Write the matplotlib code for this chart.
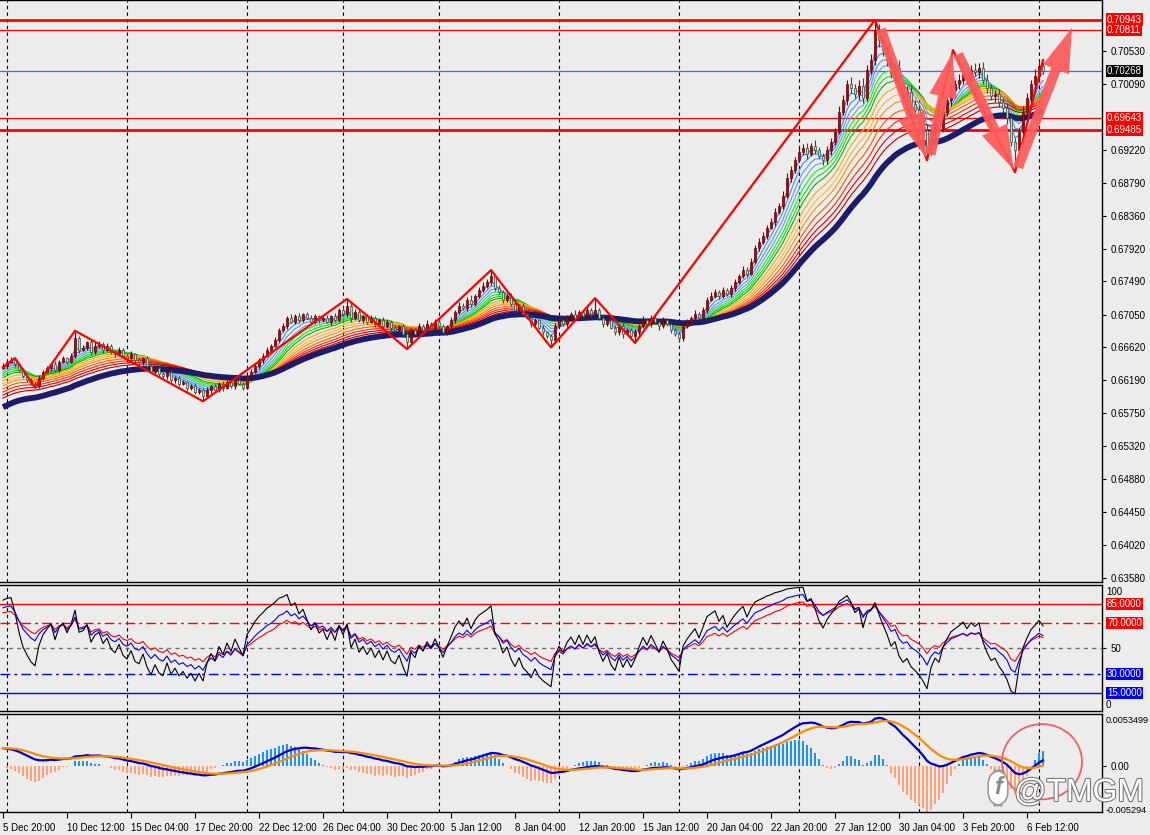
import numpy as np
import matplotlib.pyplot as plt
from matplotlib.patches import FancyArrowPatch, Ellipse
import matplotlib.patheffects as pe

plt.rcParams['font.family'] = ['Liberation Sans', 'DejaVu Sans']

# H4 closes (units of 0.0001)
closes = [
    6638, 6643, 6645, 6640, 6632, 6624, 6619, 6614, 6611, 6622,
    6630, 6635, 6640, 6632, 6643, 6648, 6643, 6651, 6674, 6659,
    6661, 6669, 6656, 6664, 6667, 6659, 6664, 6656, 6653, 6659,
    6651, 6648, 6653, 6645, 6643, 6648, 6638, 6630, 6635, 6627,
    6624, 6630, 6619, 6622, 6614, 6616, 6609, 6611, 6603, 6606,
    6598, 6606, 6611, 6606, 6614, 6609, 6616, 6611, 6619, 6614,
    6609, 6624, 6630, 6638, 6645, 6651, 6659, 6664, 6672, 6685,
    6690, 6701, 6696, 6703, 6698, 6706, 6701, 6696, 6703, 6698,
    6701, 6696, 6703, 6698, 6711, 6706, 6717, 6701, 6709, 6698,
    6703, 6696, 6701, 6693, 6698, 6690, 6696, 6688, 6685, 6690,
    6680, 6669, 6685, 6680, 6690, 6685, 6693, 6688, 6696, 6690,
    6682, 6690, 6698, 6709, 6717, 6714, 6725, 6719, 6730, 6738,
    6743, 6748, 6756, 6740, 6735, 6725, 6730, 6719, 6711, 6717,
    6706, 6701, 6693, 6698, 6688, 6682, 6677, 6672, 6690, 6698,
    6693, 6701, 6706, 6701, 6709, 6703, 6711, 6706, 6711, 6701,
    6693, 6698, 6688, 6682, 6690, 6680, 6685, 6677, 6682, 6690,
    6698, 6693, 6701, 6696, 6690, 6698, 6693, 6685, 6680, 6674,
    6690, 6696, 6701, 6706, 6701, 6711, 6725, 6730, 6735, 6730,
    6738, 6732, 6740, 6748, 6756, 6764, 6759, 6775, 6793, 6801,
    6809, 6820, 6827, 6841, 6849, 6862, 6885, 6896, 6909, 6920,
    6925, 6917, 6928, 6922, 6914, 6909, 6922, 6933, 6946, 6973,
    6988, 7009, 7004, 6996, 7007, 6991, 7028, 7041, 7081, 7067,
    7054, 7041, 7023, 7031, 7007, 6994, 6999, 6983, 6975, 6965,
    6949, 6922, 6946, 6959, 6951, 6973, 6988, 7002, 7009, 7015,
    7023, 7017, 7028, 7025, 7031, 7015, 7004, 6994, 6996, 6986,
    6978, 6965, 6933, 6922, 6946, 6973, 6991, 7009, 7020, 7033, 7027,
]
first_open = 6635

# wick sizes above / below the body, in pips
up_wick = ("3 2 4 3 2 3 2 3 2 4 2 3 2 4 3 3 2 4 10 3 4 2 3 5 3 2 4 3 2 3 "
           "2 3 4 2 3 2 3 4 2 3 3 2 4 3 2 3 2 3 4 2 3 4 2 3 2 4 3 2 3 4 "
           "3 2 3 4 3 4 3 2 4 3 4 3 5 3 4 2 3 4 3 2 3 4 2 5 3 4 9 3 4 3 "
           "2 3 4 3 2 4 3 2 3 2 3 4 3 2 4 3 5 2 3 4 3 2 4 3 5 3 4 6 3 4 "
           "5 4 8 3 4 3 2 4 3 2 3 2 4 3 2 3 2 3 4 3 2 4 3 5 3 2 4 3 16 3 "
           "4 2 3 4 3 5 2 3 4 3 5 3 4 3 2 4 3 2 3 2 4 3 2 5 3 4 3 5 4 3 "
           "4 3 5 4 3 6 4 5 4 6 5 4 6 5 4 6 7 5 4 6 5 6 4 7 5 4 6 5 6 8 "
           "7 6 9 5 8 10 6 8 13 7 9 6 8 5 10 6 8 9 5 7 6 8 5 7 9 6 5 8 6 7 "
           "5 8 6 9 6 7 8 5 6 7 5 6 4 5 6 8 7 6 9 5 6")
down_wick = ("2 3 2 4 3 2 3 2 2 3 3 2 4 2 3 2 3 2 3 4 2 3 4 2 3 4 2 3 4 2 "
             "3 4 2 3 2 4 3 2 3 4 2 3 2 4 3 2 4 3 2 3 7 3 4 2 3 4 2 3 4 2 "
             "3 2 3 2 4 3 2 3 2 3 3 4 2 3 4 3 2 4 3 4 3 2 4 3 2 3 4 5 3 2 "
             "4 3 2 4 3 5 2 4 3 2 4 9 3 2 4 5 3 2 4 3 4 3 2 4 3 2 4 3 2 3 "
             "3 2 4 3 2 4 3 2 3 4 3 2 4 3 2 4 3 10 3 2 3 4 2 3 4 2 3 4 2 3 "
             "4 3 2 4 3 5 2 3 9 3 3 2 4 3 5 2 3 4 3 4 3 2 4 3 2 4 3 2 3 4 "
             "3 2 4 3 2 3 4 2 3 4 3 4 2 5 3 4 3 5 4 3 4 6 3 5 4 7 5 6 4 3 "
             "5 6 7 5 8 6 4 5 6 9 7 8 6 9 7 8 6 7 9 8 9 13 6 8 7 5 6 7 8 6 "
             "5 7 6 5 8 6 7 6 8 7 6 8 5 17 6 5 4 6 5 7 4")

# moving-average ribbon: periods, colours and their values at the left edge
ribbon_periods = [3, 5, 7, 9, 11, 13, 15, 18, 21, 24, 28, 32, 36, 40]
ribbon_colors = ['#1e90ff', '#3c8fe8', '#5599e0', '#6a9fe6',
                 '#00ff00', '#22d322', '#00b800',
                 '#ffa500', '#ffb52e', '#ff9000',
                 '#ff5a00', '#ff2a00', '#e00000', '#c00000']
ribbon_start = [6636, 6634, 6631, 6628, 6626, 6623, 6620, 6616, 6612, 6609,
                6605, 6601, 6597, 6593]
slow_period, slow_start = 48, 6581

# zigzag turning points (bar, price)
zz_bar = [0, 3, 8, 18, 50, 86, 101, 122, 137, 148, 158, 218, 231, 237.5, 253, 260]
zz_price = [0.6636, 0.6648, 0.6609, 0.6684, 0.6591, 0.6726, 0.6660, 0.6764,
            0.6662, 0.6727, 0.6668, 0.7094, 0.6909, 0.7054, 0.6893, 0.7041]

# hand-drawn arrows (bar, price) -> (bar, price)
arrows = [((219.25, 0.7085), (231.0, 0.6909)),
          ((231.75, 0.6913), (237.5, 0.7054)),
          ((238.5, 0.7052), (253.0, 0.6893)),
          ((253.5, 0.6896), (267.5, 0.7087))]

levels_thick = [0.70943, 0.69485]
levels_thin = [0.70811, 0.69643]
bid = 0.70268

price_ticks = [0.63580, 0.64020, 0.64450, 0.64880, 0.65320, 0.65750, 0.66190,
               0.66620, 0.67050, 0.67490, 0.67920, 0.68360, 0.68790, 0.69220,
               0.70090, 0.70530]

rsi_periods = [7, 14, 21]
rsi_colors = ['black', '#0000ff', '#ff0000']
rsi_start = [88, 82, 78]

macd_fast, macd_slow, macd_sig = 12, 26, 9
macd_fast_start, macd_slow_start, macd_sig_start = 0.6632, 0.6610, 0.0021
hist_scale = 3

grid_bars = [1, 31, 61, 85, 109, 139, 169, 199, 229, 259]
date_labels = ['5 Dec 20:00', '10 Dec 12:00', '15 Dec 04:00', '17 Dec 20:00',
               '22 Dec 12:00', '26 Dec 04:00', '30 Dec 20:00', '5 Jan 12:00',
               '8 Jan 04:00', '12 Jan 20:00', '15 Jan 12:00', '20 Jan 04:00',
               '22 Jan 20:00', '27 Jan 12:00', '30 Jan 04:00', '3 Feb 20:00',
               '6 Feb 12:00']


def ema(x, n, seed):
    a = 2.0 / (n + 1)
    out = np.empty(len(x))
    v = seed
    for i, val in enumerate(x):
        v = v + a * (val - v)
        out[i] = v
    return out


def rsi(x, n, start):
    d = np.diff(x, prepend=x[0])
    g = np.abs(np.diff(x[:21])).mean()
    ag, al = g * start / 100, g * (1 - start / 100)
    out = np.empty(len(x))
    for i, v in enumerate(d):
        ag = (ag * (n - 1) + max(v, 0)) / n
        al = (al * (n - 1) + max(-v, 0)) / n
        out[i] = 100 * ag / (ag + al)
    return out


c = np.array(closes) / 1e4
o = np.r_[first_open / 1e4, c[:-1]]
up = np.array(up_wick.split(), dtype=float) / 1e4
dn = np.array(down_wick.split(), dtype=float) / 1e4
hi = np.maximum(o, c) + up
lo = np.minimum(o, c) - dn
idx = np.arange(len(c))
bull = c >= o

W, H = 1150, 835
bg = '#ececec'
fig = plt.figure(figsize=(W / 100, H / 100), dpi=100, facecolor=bg)
xr = 1102 / W
ax = fig.add_axes([0, 1 - 582 / H, xr, 582 / H], facecolor=bg)
ax2 = fig.add_axes([0, 1 - 711 / H, xr, 126 / H], facecolor=bg)
ax3 = fig.add_axes([0, 1 - 812 / H, xr, 98 / H], facecolor=bg)

for a in (ax, ax2, ax3):
    a.set_xlim(-0.75, 274.75)
    a.spines['left'].set_visible(False)
    for s in ('right', 'top', 'bottom'):
        a.spines[s].set_color('black')
        a.spines[s].set_linewidth(1)
    a.yaxis.tick_right()
    a.tick_params(axis='y', direction='out', length=3, width=0.8,
                  labelsize=7, pad=3, colors='black')
    for gb in grid_bars:
        a.axvline(gb, color='black', lw=0.8, ls=(0, (3, 3)), zorder=1)

# ---- main price panel ----
ax.set_ylim(0.63527, 0.71202)
ax.set_xticks([])
ax.set_yticks(price_ticks)
ax.set_yticklabels(['%.5f' % t for t in price_ticks])

for lv in levels_thick:
    ax.axhline(lv, color='#ff0000', lw=2, zorder=2)
for lv in levels_thin:
    ax.axhline(lv, color='#ff0000', lw=0.9, zorder=2)
ax.axhline(bid, color='#4a6ad0', lw=0.9, zorder=2)

for p, col, s in zip(ribbon_periods, ribbon_colors, ribbon_start):
    ax.plot(idx, ema(c, p, s / 1e4), color=col, lw=0.8, zorder=3)
ax.plot(idx, ema(c, slow_period, slow_start / 1e4), color='#1c1c6a', lw=4.2,
        zorder=3.5, solid_capstyle='butt')

ax.vlines(idx[bull], lo[bull], hi[bull], color='#7a0000', lw=0.8, zorder=4)
ax.vlines(idx[~bull], lo[~bull], hi[~bull], color='#2f4f3f', lw=0.8, zorder=4)
ax.bar(idx[bull], np.maximum(c - o, 0.00005)[bull], bottom=o[bull], width=0.72,
       color='#c00000', edgecolor='#6a0000', lw=0.5, zorder=4.5)
ax.bar(idx[~bull], (o - c)[~bull], bottom=c[~bull], width=0.72,
       color='#c9d6c9', edgecolor='#2f4f3f', lw=0.5, zorder=4.5)

ax.plot(zz_bar, zz_price, color='#ff0000', lw=1.6, zorder=5)

for (x0, y0), (x1, y1) in arrows:
    ax.add_patch(FancyArrowPatch((x0, y0), (x1, y1),
                                 arrowstyle='simple,head_length=1.6,head_width=1.0,tail_width=0.36',
                                 mutation_scale=20, color='#ff5a5a', alpha=0.92,
                                 lw=0, zorder=6, clip_on=False))


def tag(a, val, text, fc):
    a.annotate(text, xy=(1, val), xycoords=('axes fraction', 'data'),
               xytext=(5, 0), textcoords='offset pixels', va='center', ha='left',
               fontsize=7, color='white', annotation_clip=False,
               bbox=dict(boxstyle='square,pad=0.12', fc=fc, ec='none'))


def plain(a, val, text, dy=0, size=7):
    a.annotate(text, xy=(1, val), xycoords=('axes fraction', 'data'),
               xytext=(4, dy), textcoords='offset pixels', va='center', ha='left',
               fontsize=size, color='black', annotation_clip=False)


for lv in levels_thick + levels_thin:
    tag(ax, lv, '%.5f' % lv, '#ff0000')
tag(ax, bid, '%.5f' % bid, 'black')

# ---- oscillator panel ----
ax2.set_ylim(0.84, 99.9)
ax2.set_xticks([])
ax2.set_yticks([50])
ax2.set_yticklabels(['50'])
plain(ax2, 100, '100', dy=-7)
plain(ax2, 0, '0', dy=7)
ax2.axhline(85, color='#ff0000', lw=1)
ax2.axhline(70, color='#ff0000', lw=1, ls=(0, (7, 3, 2, 3)))
ax2.axhline(50, color='#707070', lw=1, ls=(0, (3, 3)))
ax2.axhline(30, color='#0000ff', lw=1, ls=(0, (7, 3, 2, 3)))
ax2.axhline(15, color='#0000ff', lw=1)
for p, col, s in zip(rsi_periods[::-1], rsi_colors[::-1], rsi_start[::-1]):
    ax2.plot(idx, rsi(c, p, s), color=col, lw=0.8, zorder=3)
for lv, fc in ((85, '#ff0000'), (70, '#ff0000'), (30, '#0000ff'), (15, '#0000ff')):
    tag(ax2, lv, '%.4f' % lv, fc)

# ---- MACD panel ----
ax3.set_ylim(-0.00538, 0.00608)
macd = ema(c, macd_fast, macd_fast_start) - ema(c, macd_slow, macd_slow_start)
sig = ema(macd, macd_sig, macd_sig_start)
hist = (macd - sig) * hist_scale
ax3.bar(idx, hist, width=0.62, color=np.where(hist >= 0, '#1e90ff', '#ffa07a'),
        lw=0, zorder=2)
ax3.plot(idx, macd, color='#0000cd', lw=1.6, zorder=3)
ax3.plot(idx, sig, color='#ff8c00', lw=1.6, zorder=3)
ax3.set_yticks([0.0])
ax3.set_yticklabels(['0.00'])
plain(ax3, 0.0053499, '0.0053499', size=6.6)
plain(ax3, -0.005294, '-0.005294', dy=1, size=6.6)
ax3.set_xticks(np.arange(len(date_labels)) * 16)
ax3.set_xticklabels(date_labels)
ax3.tick_params(axis='x', direction='out', length=4, width=0.8, labelsize=7,
                pad=4, colors='black')
for t in ax3.get_xticklabels():
    t.set_horizontalalignment('left')
ax3.add_patch(Ellipse((259.75, 0.0005), 20, 0.0088, fill=False,
                      ec='#f06060', lw=1.3, zorder=6, clip_on=False))

# watermark
stroke = [pe.withStroke(linewidth=1.6, foreground='#7a7a7a')]
fig.text(1014 / W, 1 - 801 / H, '@TMGM', fontsize=23, color='white',
         va='baseline', ha='left', path_effects=stroke, zorder=10)
fig.text(998 / W, 1 - 788 / H, 'f', fontsize=17, color='#8a8a8a', weight='bold',
         style='italic', va='center', ha='center', zorder=10,
         bbox=dict(boxstyle='round,pad=0.25,rounding_size=0.6', fc='white',
                   ec='#9a9a9a', lw=1.2))

fig.savefig('out.png', dpi=100, facecolor=bg)
